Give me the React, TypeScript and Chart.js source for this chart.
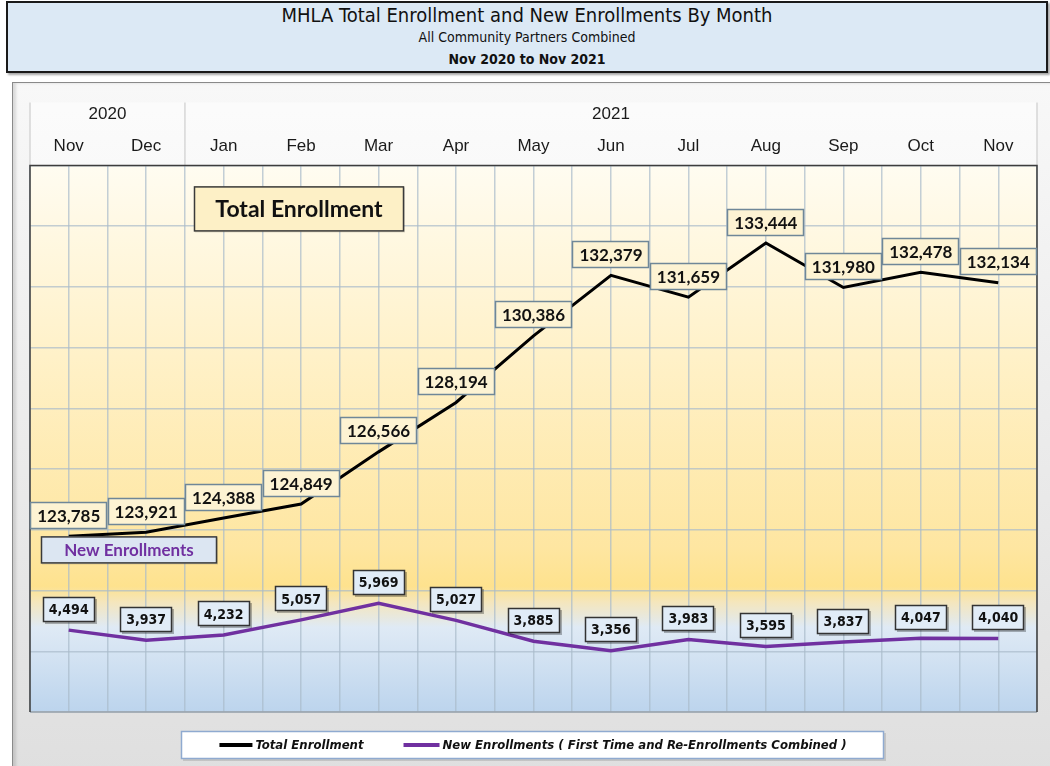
import React, { useEffect, useRef } from "react";
import { Chart, registerables } from "chart.js";

Chart.register(...registerables);

// ---------- data ----------
const months = ["Nov", "Dec", "Jan", "Feb", "Mar", "Apr", "May", "Jun", "Jul", "Aug", "Sep", "Oct", "Nov"];
const yearLabels = ["2020", "2021"];
const yearFirstIndex = [0, 2];
const yearLastIndex = [1, 12];
const totalEnrollment = [123785, 123921, 124388, 124849, 126566, 128194, 130386, 132379, 131659, 133444, 131980, 132478, 132134];
const newEnrollments = [4494, 3937, 4232, 5057, 5969, 5027, 3885, 3356, 3983, 3595, 3837, 4047, 4040];
const totalAxisMin = 118000;
const totalAxisMax = 136000;
const totalAxisStep = 2000;
const newAxisMin = 0;
const newAxisMax = 30000;
const seriesNames = ["Total Enrollment", "New Enrollments ( First Time and Re-Enrollments Combined )"];
const boxNames = ["Total Enrollment", "New Enrollments"];

const NARROW = "'Liberation Sans Narrow', 'DejaVu Sans Condensed', sans-serif";
const ARIAL = "'Liberation Sans', Arial, sans-serif";
const CAL = "Lato, 'Open Sans', sans-serif";
const GRID = "rgba(170,186,202,0.7)";
const PURPLE = "#7030a0";

const fmt = (v: number) => v.toLocaleString("en-US");

function labelBox(
  ctx: CanvasRenderingContext2D,
  cx: number,
  cy: number,
  text: string,
  font: string,
  padX: number,
  h: number,
  fill: string,
  stroke: string,
  color: string,
  shadow: boolean
) {
  ctx.save();
  ctx.font = font;
  const w = Math.round(ctx.measureText(text).width + padX * 2);
  const x = Math.round(cx - w / 2);
  const y = Math.round(cy - h / 2);
  if (shadow) {
    ctx.fillStyle = "rgba(0,0,0,0.28)";
    ctx.fillRect(x + 2, y + 2, w, h);
  }
  ctx.fillStyle = fill;
  ctx.fillRect(x, y, w, h);
  ctx.strokeStyle = stroke;
  ctx.lineWidth = 1.5;
  ctx.strokeRect(x + 0.5, y + 0.5, w - 1, h - 1);
  ctx.fillStyle = color;
  ctx.textAlign = "center";
  ctx.textBaseline = "middle";
  ctx.fillText(text, cx, cy + 1);
  ctx.restore();
}

const decorPlugin = {
  id: "decor",
  beforeDraw(chart: any) {
    const { ctx, chartArea: a, scales } = chart;
    const xs = scales.x;
    ctx.save();
    // header band
    const bandTop = a.top - 63;
    ctx.fillStyle = "rgba(255,255,255,0.45)";
    ctx.fillRect(a.left, bandTop, a.right - a.left, a.top - bandTop);
    ctx.strokeStyle = "#d6d6d6";
    ctx.lineWidth = 1.5;
    const half = (xs.getPixelForValue(1) - xs.getPixelForValue(0)) / 2;
    const seps = [a.left, a.right];
    for (let i = 1; i < yearFirstIndex.length; i++) seps.push(xs.getPixelForValue(yearFirstIndex[i]) - half);
    seps.forEach((sx) => {
      ctx.beginPath();
      ctx.moveTo(sx, bandTop);
      ctx.lineTo(sx, a.top);
      ctx.stroke();
    });
    // year labels
    ctx.fillStyle = "#1a1a1a";
    ctx.font = `17px ${ARIAL}`;
    ctx.textAlign = "center";
    ctx.textBaseline = "middle";
    yearLabels.forEach((yl, i) => {
      const cx = (xs.getPixelForValue(yearFirstIndex[i]) + xs.getPixelForValue(yearLastIndex[i])) / 2;
      ctx.fillText(yl, cx, a.top - 51);
    });
    // plot gradient
    const g = ctx.createLinearGradient(0, a.top, 0, a.bottom);
    g.addColorStop(0, "#fffcf1");
    g.addColorStop(0.35, "#fff1c8");
    g.addColorStop(0.7, "#fee6a1");
    g.addColorStop(0.77, "#fee28e");
    g.addColorStop(0.8, "#f4e6be");
    g.addColorStop(0.845, "#dfeaf5");
    g.addColorStop(1, "#bcd4ed");
    ctx.fillStyle = g;
    ctx.fillRect(a.left, a.top, a.right - a.left, a.bottom - a.top);
    ctx.restore();
  },
  afterDraw(chart: any) {
    const { ctx, chartArea: a } = chart;
    ctx.save();
    // plot border
    ctx.lineWidth = 1.5;
    ctx.strokeStyle = "#9aa3ab";
    ctx.beginPath();
    ctx.moveTo(a.left, a.bottom);
    ctx.lineTo(a.right, a.bottom);
    ctx.stroke();
    ctx.strokeStyle = "#3d3d3d";
    ctx.beginPath();
    ctx.moveTo(a.left, a.bottom);
    ctx.lineTo(a.left, a.top);
    ctx.lineTo(a.right, a.top);
    ctx.lineTo(a.right, a.bottom);
    ctx.stroke();

    // data labels
    const m0 = chart.getDatasetMeta(0);
    m0.data.forEach((pt: any, i: number) => {
      labelBox(ctx, pt.x, pt.y - 21, fmt(totalEnrollment[i]), `bold 17px ${CAL}`, 7, 27, "#fdf3d3", "#6f8798", "#111", false);
    });
    const m1 = chart.getDatasetMeta(1);
    m1.data.forEach((pt: any, i: number) => {
      labelBox(ctx, pt.x, pt.y - 21, fmt(newEnrollments[i]), `bold 14px ${NARROW}`, 6, 25, "#e1ecf7", "#333", "#111", true);
    });

    // annotation boxes
    const drawAnno = (x: number, y: number, w: number, h: number, text: string, font: string, fill: string, color: string) => {
      ctx.fillStyle = "rgba(0,0,0,0.15)";
      ctx.fillRect(x + 1, y + 1, w, h);
      ctx.fillStyle = fill;
      ctx.fillRect(x, y, w, h);
      ctx.strokeStyle = "#3a3a3a";
      ctx.lineWidth = 1.5;
      ctx.strokeRect(x + 0.5, y + 0.5, w - 1, h - 1);
      ctx.fillStyle = color;
      ctx.font = font;
      ctx.textAlign = "center";
      ctx.textBaseline = "middle";
      ctx.fillText(text, x + w / 2, y + h / 2 + 1);
    };
    drawAnno(a.left + 164, a.top + 21, 210, 45, boxNames[0], `bold 23px ${CAL}`, "#fdf0c6", "#111");
    drawAnno(a.left + 11, a.top + 371, 176, 27, boxNames[1], `bold 17px ${CAL}`, "#dce6f2", PURPLE);

    // legend
    ctx.font = `italic bold 13px ${NARROW}`;
    const ds = chart.data.datasets;
    const lineLens = [33, 36];
    const gapText = 3;
    const itemGap = 40;
    const widths = ds.map((d: any, i: number) => lineLens[i] + gapText + ctx.measureText(d.label).width);
    const content = widths.reduce((s: number, v: number) => s + v, 0) + itemGap * (ds.length - 1);
    const cxm = chart.width / 2 + 2;
    const boxL = Math.round(cxm - content / 2 - 38);
    const boxW = Math.round(content + 76);
    const boxT = a.bottom + 19;
    const boxH = 28;
    ctx.fillStyle = "rgba(0,0,0,0.12)";
    ctx.fillRect(boxL + 2, boxT + 2, boxW, boxH);
    ctx.fillStyle = "#ffffff";
    ctx.fillRect(boxL, boxT, boxW, boxH);
    ctx.strokeStyle = "#8faad0";
    ctx.lineWidth = 1.5;
    ctx.strokeRect(boxL + 0.5, boxT + 0.5, boxW - 1, boxH - 1);
    let lx = cxm - content / 2;
    const ly = boxT + boxH / 2;
    ds.forEach((d: any, i: number) => {
      ctx.strokeStyle = d.borderColor;
      ctx.lineWidth = 4;
      ctx.beginPath();
      ctx.moveTo(lx, ly);
      ctx.lineTo(lx + lineLens[i], ly);
      ctx.stroke();
      ctx.fillStyle = "#111";
      ctx.textAlign = "left";
      ctx.textBaseline = "middle";
      ctx.fillText(d.label, lx + lineLens[i] + gapText, ly + 1);
      lx += widths[i] + itemGap;
    });
    ctx.restore();
  },
};

function EnrollmentChart() {
  const ref = useRef<HTMLCanvasElement | null>(null);
  useEffect(() => {
    if (!ref.current) return;
    const chart = new Chart(ref.current, {
      type: "line",
      data: {
        labels: months,
        datasets: [
          {
            label: seriesNames[0],
            data: totalEnrollment,
            borderColor: "#000000",
            backgroundColor: "#000000",
            borderWidth: 3,
            pointRadius: 0,
            tension: 0,
            xAxisID: "x",
            yAxisID: "y",
          },
          {
            label: seriesNames[1],
            data: newEnrollments,
            borderColor: PURPLE,
            backgroundColor: PURPLE,
            borderWidth: 3.5,
            pointRadius: 0,
            tension: 0,
            xAxisID: "x",
            yAxisID: "y2",
          },
        ],
      },
      options: {
        animation: false,
        responsive: true,
        maintainAspectRatio: false,
        layout: { padding: { left: 18, right: 13, top: 45, bottom: 54 } },
        plugins: { legend: { display: false }, tooltip: { enabled: false } },
        scales: {
          x: {
            type: "category",
            position: "top",
            offset: true,
            grid: { offset: false, drawTicks: false, color: GRID, lineWidth: 1.5 },
            border: { display: false },
            ticks: { font: { family: ARIAL, size: 17 }, color: "#1a1a1a", padding: 9, maxRotation: 0, autoSkip: false },
          },
          xb: {
            type: "category",
            position: "bottom",
            offset: true,
            grid: { offset: true, drawTicks: false, color: GRID, lineWidth: 1.5 },
            border: { display: false },
            ticks: { display: false },
          },
          y: {
            position: "left",
            min: totalAxisMin,
            max: totalAxisMax,
            ticks: { stepSize: totalAxisStep, display: false },
            grid: { drawTicks: false, color: GRID, lineWidth: 1.5 },
            border: { display: false },
          },
          y2: { display: false, min: newAxisMin, max: newAxisMax },
        },
      },
      plugins: [decorPlugin],
    } as any);
    return () => chart.destroy();
  }, []);
  return <canvas ref={ref} />;
}

export default function App() {
  useEffect(() => {
    document.body.style.margin = "0";
  }, []);
  return (
    <div style={{ position: "absolute", left: 0, top: 0, width: 1050, height: 766, overflow: "hidden", background: "#ffffff" }}>
      <div
        style={{
          position: "absolute",
          left: 6,
          top: 1,
          width: 1038,
          height: 68,
          background: "#dce9f5",
          border: "2px solid #1a1a1a",
          boxShadow: "2px 2px 2px rgba(0,0,0,0.35)",
          textAlign: "center",
          color: "#111",
        }}
      >
        <div style={{ position: "absolute", left: 0, right: 0, top: 1, fontFamily: NARROW, fontSize: 20, lineHeight: "22px" }}>
          MHLA Total Enrollment and New Enrollments By Month
        </div>
        <div style={{ position: "absolute", left: 0, right: 0, top: 26, fontFamily: NARROW, fontSize: 14, lineHeight: "17px" }}>
          All Community Partners Combined
        </div>
        <div style={{ position: "absolute", left: 0, right: 0, top: 47, fontFamily: NARROW, fontSize: 14, fontWeight: "bold", lineHeight: "18px" }}>
          Nov 2020 to Nov 2021
        </div>
      </div>
      <div
        style={{
          position: "absolute",
          left: 12,
          top: 82,
          width: 1060,
          height: 720,
          border: "1.5px solid #8a8a8a",
          background: "linear-gradient(#f8f8f8, #dedede)",
          boxShadow: "inset 3px 0 3px rgba(0,0,0,0.12)",
        }}
      />
      <div style={{ position: "absolute", left: 12, top: 82, width: 1038, height: 684 }}>
        <EnrollmentChart />
      </div>
    </div>
  );
}
